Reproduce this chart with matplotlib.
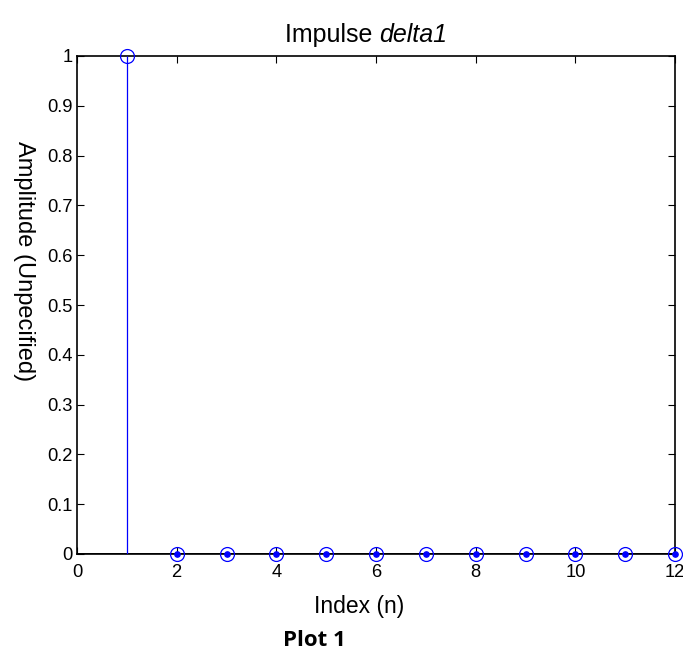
import matplotlib
matplotlib.use("Agg")
import matplotlib.pyplot as plt

plt.rcParams['font.family'] = ['Liberation Sans', 'DejaVu Sans']

n = [1, 2, 3, 4, 5, 6, 7, 8, 9, 10, 11, 12]
delta1 = [1, 0, 0, 0, 0, 0, 0, 0, 0, 0, 0, 0]
xticks = [0, 2, 4, 6, 8, 10, 12]
yticks = [0, 0.1, 0.2, 0.3, 0.4, 0.5, 0.6, 0.7, 0.8, 0.9, 1]
ytick_labels = ['0', '0.1', '0.2', '0.3', '0.4', '0.5', '0.6', '0.7', '0.8', '0.9', '1']

fig = plt.figure(figsize=(6.83, 6.51), dpi=100)
ax = fig.add_axes([77/683, 1 - 554/651, (675 - 77)/683, (554 - 56)/651])

blue = '#0000ff'
ax.vlines(n, 0, delta1, colors=blue, linewidth=0.9, zorder=3)
ax.plot(n, delta1, linestyle='none', marker='o', markersize=10,
        markerfacecolor='none', markeredgecolor=blue, markeredgewidth=0.9,
        clip_on=False, zorder=4)
zero_n = [x for x, v in zip(n, delta1) if v == 0]
ax.plot(zero_n, [0] * len(zero_n), linestyle='none', marker='o', markersize=3.8,
        color=blue, clip_on=False, zorder=5)
ax.axhline(0, color='black', linewidth=1.4, zorder=2)

ax.set_xlim(0, 12)
ax.set_ylim(0, 1)
ax.set_xticks(xticks)
ax.set_yticks(yticks)
ax.set_yticklabels(ytick_labels)
ax.tick_params(direction='in', length=5, width=0.8, labelsize=13.2,
               top=True, right=True)
ax.tick_params(axis='x', pad=7)
ax.tick_params(axis='y', pad=3)
for lbl in ax.get_xticklabels():
    if lbl.get_text() == '12':
        lbl.set_clip_on(False)
for s in ax.spines.values():
    s.set_linewidth(1.2)

# title: plain word followed by an italic variable name
t1 = fig.text(0, 0, 'Impulse ', fontsize=18, va='center')
t2 = fig.text(0, 0, 'delta1', fontsize=18, va='center', style='italic')
fig.canvas.draw()
r = fig.canvas.get_renderer()
w1 = t1.get_window_extent(r).width
w2 = t2.get_window_extent(r).width
cx, cy = 366, 651 - 35
x0 = cx - (w1 + w2) / 2
t1.set_position((x0 / 683, cy / 651))
t2.set_position(((x0 + w1) / 683, cy / 651))

fig.text(359/683, 1 - 606/651, 'Index (n)', ha='center', va='center', fontsize=16.5)
fig.text(24/683, 1 - 261/651, 'Amplitude (Unpecified)', ha='center', va='center',
         rotation=270, fontsize=17)
fig.text(314/683, 1 - 640/651, 'Plot 1', ha='center', va='center', fontsize=16,
         fontweight='bold', family=['Open Sans', 'DejaVu Sans'])

fig.savefig('out.png', dpi=100)
